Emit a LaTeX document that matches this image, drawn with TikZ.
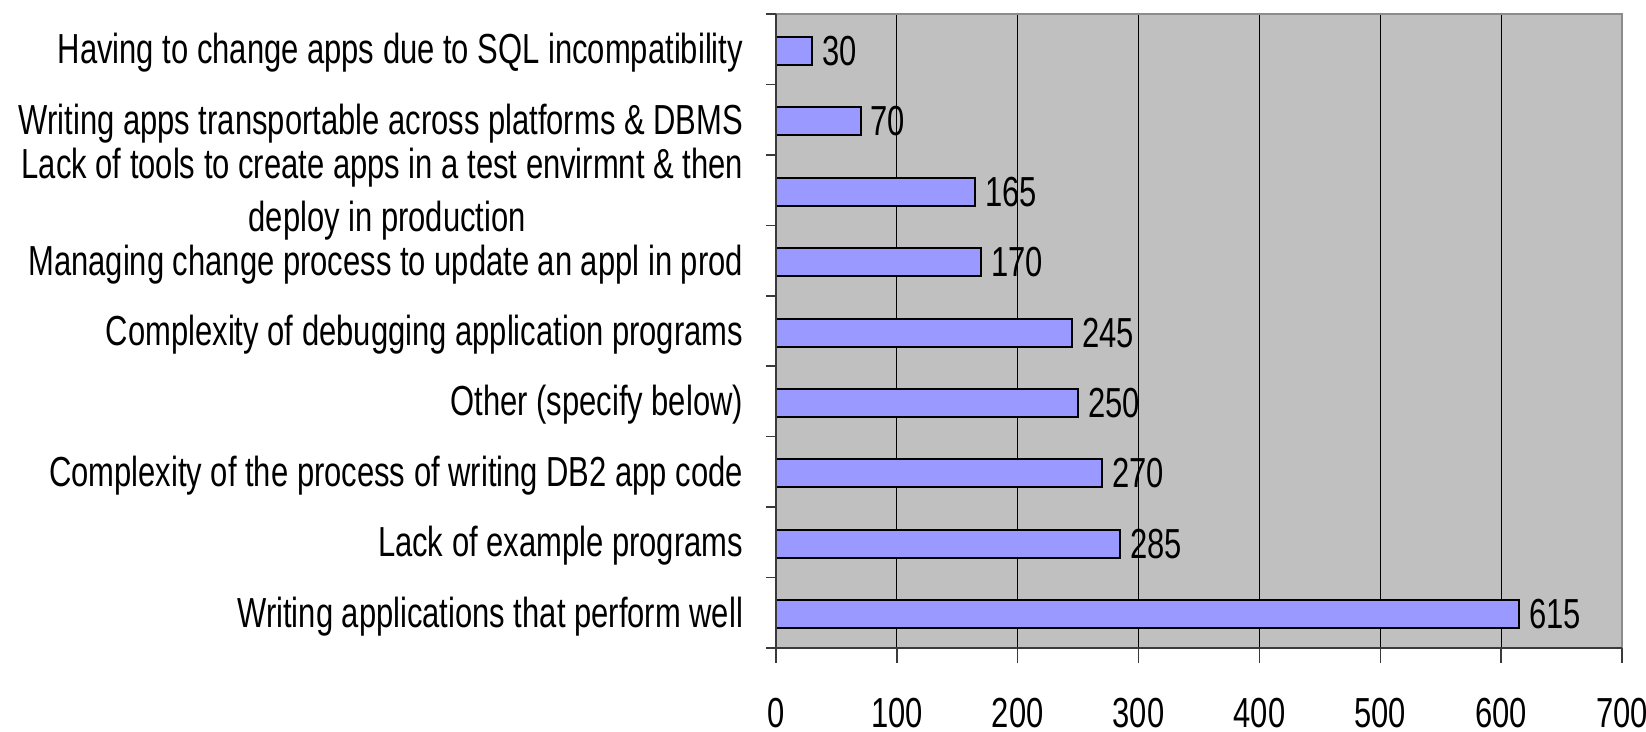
\documentclass[tikz,border=0pt]{standalone}
\usepackage{fontspec}
\setmainfont{Liberation Sans}[FakeStretch=0.7375]
\definecolor{plotbg}{HTML}{C0C0C0}
\definecolor{barfill}{HTML}{9999FF}
\definecolor{framegray}{HTML}{8C8C8C}
\definecolor{axisgray}{HTML}{3A3A3A}
\begin{document}
\begin{tikzpicture}[x=1pt,y=-1pt,
  lab/.style={font=\fontsize{42}{48}\selectfont, inner sep=0pt, outer sep=0pt},
  barbox/.style={fill=barfill, draw=black, line width=2pt},
  gridline/.style={draw=black, line width=1pt},
  axisline/.style={draw=axisgray, line width=1.5pt},
  framing/.style={draw=framegray, line width=2pt}]
\useasboundingbox (0,0) rectangle (1646,731);
% plot area
\fill[plotbg] (776,14) rectangle (1622,648);
\foreach \k in {1,...,6}{
  \draw[gridline] ({776+\k*120.86},14) -- ({776+\k*120.86},648);
}
% bars and value labels
\foreach \k/\v in {0/30,1/70,2/165,3/170,4/245,5/250,6/270,7/285,8/615}{
  \pgfmathsetmacro\c{14+70.444*(\k+0.5)+1.5}
  \pgfmathsetmacro\e{776+\v*1.2086}
  \draw[barbox] (776,{\c-14}) rectangle (\e,{\c+14});
  \node[lab, anchor=base west] (v\k) at ({\e+10},{\c+14.5}) {\v};
}
% frame and axes
\draw[framing] (776,14) -- (1622,14) -- (1622,648);
\draw[axisline] (776,14) -- (776,648);
\draw[axisline] (766,648) -- (1622,648);
\foreach \k in {0,...,9}{
  \draw[axisline] (766,{14+\k*70.444}) -- (776,{14+\k*70.444});
}
\foreach \k/\t in {0/0,1/100,2/200,3/300,4/400,5/500,6/600,7/700}{
  \draw[axisline] ({776+\k*120.86},648) -- ({776+\k*120.86},663);
  \node[lab, anchor=base] (x\k) at ({776+\k*120.86},727) {\t};
}
% category labels
\foreach \k/\t in {0/{Having to change apps due to SQL incompatibility},
                   1/{Writing apps transportable across platforms \& DBMS},
                   3/{Managing change process to update an appl in prod},
                   4/{Complexity of debugging application programs},
                   5/{Other (specify below)},
                   6/{Complexity of the process of writing DB2 app code},
                   7/{Lack of example programs\hspace{8.6pt}},
                   8/{Writing applications that perform well}}{
  \pgfmathsetmacro\c{14+70.444*(\k+0.5)}
  \node[lab, anchor=base east] (c\k) at (743,{\c+14.5}) {\t};
}
\node[lab, anchor=base east] (c2a) at (743,178) {Lack of tools to create apps in a test envirmnt \& then};
\node[lab, anchor=base, xshift=5pt] (c2b) at (c2a.center |- 0,231) {deploy in production};
\end{tikzpicture}
\end{document}
